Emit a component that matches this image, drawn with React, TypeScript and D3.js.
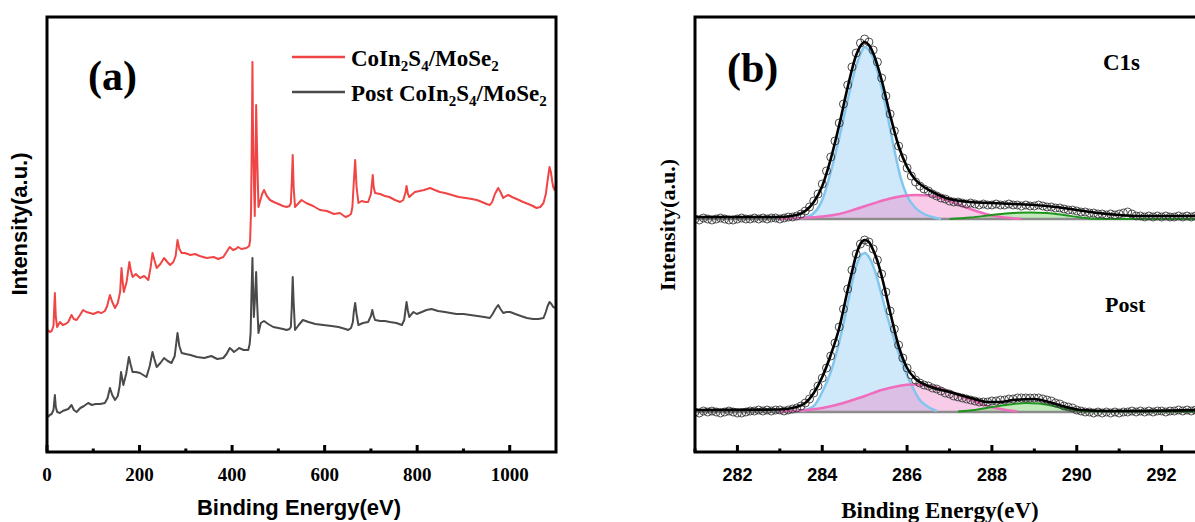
import React from 'react';
import * as d3 from 'd3';

// ---------- Panel (a): XPS survey ----------
const surveyTicks = [0, 200, 400, 600, 800, 1000];
const surveyMinorTicks = [100, 300, 500, 700, 900];
const surveyLegend = ['CoIn2S4/MoSe2', 'Post CoIn2S4/MoSe2'];

const pristineSurvey: [number, number][] = [
  [2,122],[6,120],[10,121],[14,126],[17,159],[19,135],[22,125],[28,130],[34,127],[40,128],[46,130],[53,137],[58,133],[64,132],[70,136],[78,142],[85,140],[93,139],[100,138],[110,140],[118,139],[125,141],[130,146],[136,157],[141,150],[147,144],[153,149],[158,160],[161,184],[164,168],[166,160],[172,170],[178,190],[181,182],[185,175],[192,178],[201,174],[210,176],[219,172],[224,185],[228,199],[232,192],[237,184],[245,188],[253,194],[260,190],[266,187],[273,190],[278,196],[282,212],[286,203],[291,199],[298,199],[310,197],[320,198],[330,196],[345,194],[360,195],[370,193],[381,195],[388,200],[395,205],[402,202],[408,203],[413,205],[420,203],[431,204],[437,206],[439,212],[441,242],[443,330],[444,390],[445,330],[447,275],[449,236],[451,300],[452,347],[454,300],[457,245],[460,250],[465,258],[469,262],[475,256],[482,252],[490,250],[500,248],[510,246],[518,245],[524,246],[527,249],[529,270],[531,297],[533,265],[536,245],[542,248],[550,252],[560,249],[575,246],[590,242],[605,241],[620,238],[633,239],[645,235],[651,236],[657,238],[660,245],[663,270],[666,292],[669,265],[673,249],[680,251],[688,250],[694,250],[700,258],[704,277],[706,265],[709,259],[720,258],[730,256],[740,255],[752,252],[763,250],[770,252],[775,260],[777,266],[780,258],[783,255],[790,258],[795,260],[805,261],[815,262],[828,264],[838,262],[849,260],[860,259],[875,257],[890,255],[905,254],[918,253],[929,252],[940,250],[950,248],[957,247],[962,250],[968,258],[975,264],[980,260],[986,254],[992,256],[997,257],[1005,255],[1015,253],[1029,250],[1040,248],[1050,246],[1058,244],[1066,245],[1073,249],[1078,258],[1082,272],[1086,285],[1089,280],[1092,270],[1094,265],[1097,262],[1100,267]
];

const postSurvey: [number, number][] = [
  [2,35],[6,37],[10,38],[14,42],[17,57],[19,45],[22,40],[28,39],[34,41],[40,42],[46,43],[53,47],[58,42],[64,40],[72,44],[80,46],[89,49],[97,47],[105,48],[115,48],[125,49],[131,54],[136,64],[141,57],[147,52],[153,56],[157,66],[160,80],[163,72],[165,67],[171,78],[177,95],[181,87],[185,80],[192,80],[201,79],[208,77],[215,75],[222,86],[228,100],[232,93],[237,85],[245,89],[253,94],[261,91],[269,89],[276,96],[282,119],[286,106],[291,99],[300,98],[310,97],[324,95],[340,94],[355,96],[368,93],[381,94],[388,98],[395,104],[400,102],[404,100],[410,102],[415,104],[425,102],[435,102],[438,108],[440,119],[442,160],[444,194],[445,170],[447,135],[449,150],[451,170],[452,180],[454,150],[457,119],[462,129],[469,131],[478,128],[489,125],[500,124],[510,123],[518,122],[524,123],[527,125],[529,145],[531,175],[533,150],[536,122],[544,127],[553,132],[565,130],[580,128],[597,127],[615,126],[630,125],[645,123],[651,122],[657,124],[661,130],[663,140],[666,149],[669,138],[673,127],[683,129],[694,130],[700,136],[703,142],[706,136],[709,132],[720,131],[730,131],[741,130],[755,129],[767,127],[772,132],[775,143],[777,150],[780,141],[783,135],[788,138],[792,140],[799,138],[810,140],[820,142],[831,143],[845,141],[860,140],[872,139],[885,138],[900,138],[915,137],[930,136],[945,135],[957,134],[963,138],[969,143],[975,147],[980,143],[986,139],[993,140],[1001,140],[1012,138],[1024,136],[1037,134],[1050,133],[1062,133],[1073,134],[1078,140],[1082,146],[1086,150],[1090,148],[1094,145],[1100,144]
];

// ---------- Panel (b): C1s high-resolution ----------
const c1sTicks = [282, 284, 286, 288, 290, 292];
const c1sMinorTicks = [281, 283, 285, 287, 289, 291, 293];
const c1sEnergy = d3.range(0, 121).map((i) => Math.round((281 + i * 0.1) * 10) / 10);

const c1sPristine = [
  233,232,234,233,232,233,234,233,232,232,
  233,234,233,233,234,233,234,233,234,234,
  233,234,235,235,236,238,241,245,251,258,
  268,281,295,311,329,348,367,385,399,409,
  413,410,402,390,374,356,338,321,306,294,
  284,276,270,266,263,261,258,256,254,253,
  251,250,250,249,248,249,248,247,248,247,
  247,248,247,247,248,247,247,246,247,246,
  246,247,246,245,245,244,244,243,242,242,
  241,240,240,239,239,238,238,237,238,237,
  238,239,240,238,236,236,235,236,235,236,
  235,236,235,235,236,235,236,235,236,235,
  236
];

const c1sPost = [
  40,39,41,40,41,40,39,40,41,40,
  39,39,40,41,41,42,41,42,41,42,
  42,41,42,43,44,46,49,53,59,66,
  74,84,96,109,125,143,163,182,198,208,
  212,210,203,192,178,160,141,123,107,94,
  84,77,72,69,67,66,64,63,61,59,
  58,56,55,54,53,52,51,50,50,50,
  51,51,52,52,53,53,54,54,54,54,
  54,54,53,52,51,49,48,46,45,44,
  42,41,40,40,39,40,39,40,39,40,
  39,40,40,41,40,41,40,41,40,41,
  41,40,41,41,42,41,42,41,42,41,
  42
];

const fitPristine: [number, number][] = [
  [281,235],[282,235],[283,235],[283.4,237],[283.6,241],[283.8,250],[284,266],[284.2,293],[284.4,327],[284.6,365],[284.8,397],[284.9,406],[285,410],[285.1,407],[285.2,399],[285.4,372],[285.6,337],[285.8,306],[286,285],[286.2,272],[286.4,265],[286.6,260],[286.8,256],[287,253],[287.5,250],[288,249],[288.5,248],[289,247],[289.5,245],[290,242],[290.5,239],[291,237],[291.5,236],[292,236],[293,236]
];
const bluePristine: [number, number][] = [
  [283.3,233],[283.5,234],[283.7,236],[283.9,244],[284,252],[284.2,280],[284.4,314],[284.6,352],[284.8,386],[284.9,398],[285,405],[285.1,402],[285.25,388],[285.4,364],[285.55,334],[285.7,302],[285.85,274],[286,256],[286.2,244],[286.4,238],[286.6,235],[286.8,233]
];
const pinkPristine: [number, number][] = [
  [283,233],[283.5,234],[284,235.5],[284.4,238],[284.8,243],[285.2,248.5],[285.6,253.5],[285.9,256],[286.2,257],[286.5,256.5],[286.8,254],[287.1,249.5],[287.4,244.5],[287.7,240],[288,236.5],[288.3,234.5],[288.7,233]
];
const greenPristine: [number, number][] = [
  [287,233],[287.5,234.5],[288,237],[288.5,239],[288.9,239.5],[289.3,239],[289.7,237],[290.1,234.5],[290.5,233],[291,233],[293,233]
];
const bgPristine: [number, number][] = [[281,233],[293,233]];

const fitPost: [number, number][] = [
  [281,42],[283,42.5],[283.4,45],[283.6,49],[283.8,59],[284,75],[284.2,97],[284.4,124],[284.6,162],[284.7,180],[284.8,197],[284.9,208],[285,212],[285.1,210],[285.2,202],[285.3,191],[285.4,176],[285.6,140],[285.8,106],[286,84],[286.2,73],[286.5,66],[287,60],[287.5,54],[287.9,50],[288.2,50],[288.5,52],[289,53],[289.3,50.5],[289.7,45.5],[290.1,42],[290.8,41],[293,42]
];
const bluePost: [number, number][] = [
  [283.5,41],[283.8,46],[284,60],[284.2,80],[284.4,110],[284.6,148],[284.75,178],[284.9,196],[285,199],[285.1,195],[285.25,180],[285.4,157],[285.55,133],[285.7,112],[285.85,93],[286,77],[286.15,63],[286.3,52],[286.5,45],[286.7,41]
];
const pinkPost: [number, number][] = [
  [283,40.5],[283.5,41.5],[284,44],[284.5,49],[285,56],[285.4,62],[285.8,66],[286.1,67.5],[286.4,67],[286.7,64.5],[287,60.5],[287.3,55.5],[287.6,50.5],[287.9,46],[288.2,43],[288.6,40.5]
];
const greenPost: [number, number][] = [
  [287.2,40.5],[287.6,42],[288,45],[288.4,47.5],[288.8,49],[289.1,48.5],[289.4,46.5],[289.7,43.5],[290,41.5],[290.3,40.5],[291,40.5],[293,40.5]
];
const bgPost: [number, number][] = [[281,40],[293,40]];

const c1sLabels = ['C1s', 'Post'];

// ---------- layout ----------
const W = 1195;
const H = 522;
const FA = { l: 47, r: 556, t: 17, b: 452 };
const FB = { l: 695, r: 1204, t: 17, b: 452 };
const SERIF = '"Liberation Serif", "Times New Roman", Times, serif';
const SANS = '"Liberation Sans", Arial, Helvetica, sans-serif';

const RED = '#f04545';
const GRAY = '#4a4a4a';

function Formula({ prefix }: { prefix: string }) {
  return (
    <>
      {prefix}CoIn
      <tspan fontSize={15} dy={5}>2</tspan>
      <tspan dy={-5}>S</tspan>
      <tspan fontSize={15} dy={5}>4</tspan>
      <tspan dy={-5}>/MoSe</tspan>
      <tspan fontSize={15} dy={5}>2</tspan>
    </>
  );
}

export default function App() {
  const xA = d3.scaleLinear().domain([0, 1100]).range([FA.l, FA.r]);
  const yA = d3.scaleLinear().domain([0, 435]).range([FA.b, FA.t]);
  const xB = d3.scaleLinear().domain([281, 293]).range([FB.l, FB.r]);
  const yB = d3.scaleLinear().domain([0, 435]).range([FB.b, FB.t]);

  const lineA = d3.line<[number, number]>().x((d) => xA(d[0])).y((d) => yA(d[1]));
  const lineB = d3
    .line<[number, number]>()
    .x((d) => xB(d[0]))
    .y((d) => yB(d[1]))
    .curve(d3.curveMonotoneX);
  const areaB = (comp: [number, number][], base: number) =>
    d3
      .area<[number, number]>()
      .x((d) => xB(d[0]))
      .y0(yB(base))
      .y1((d) => yB(d[1]))
      .curve(d3.curveMonotoneX)(comp) || '';

  const spectra = [
    { data: c1sPristine, fit: fitPristine, blue: bluePristine, pink: pinkPristine, green: greenPristine, bg: bgPristine },
    { data: c1sPost, fit: fitPost, blue: bluePost, pink: pinkPost, green: greenPost, bg: bgPost },
  ];

  return (
    <div style={{ position: 'fixed', left: 0, top: 0, width: W, height: H, background: '#fff' }}>
      <svg width={W} height={H} viewBox={`0 0 ${W} ${H}`} style={{ display: 'block' }}>
        <defs>
          <clipPath id="clipA">
            <rect x={FA.l} y={FA.t} width={FA.r - FA.l} height={FA.b - FA.t} />
          </clipPath>
          <clipPath id="clipB">
            <rect x={FB.l} y={FB.t} width={FB.r - FB.l} height={FB.b - FB.t} />
          </clipPath>
        </defs>

        {/* ---------- Panel (a) ---------- */}
        <g clipPath="url(#clipA)">
          <path d={lineA(postSurvey) || ''} fill="none" stroke={GRAY} strokeWidth={2} strokeLinejoin="round" />
          <path d={lineA(pristineSurvey) || ''} fill="none" stroke={RED} strokeWidth={2} strokeLinejoin="round" />
        </g>
        {surveyTicks.map((t) => (
          <line key={'ta' + t} x1={xA(t)} x2={xA(t)} y1={FA.b} y2={FA.b - 7} stroke="#000" strokeWidth={3} />
        ))}
        {surveyMinorTicks.map((t) => (
          <line key={'tma' + t} x1={xA(t)} x2={xA(t)} y1={FA.b} y2={FA.b - 3.5} stroke="#000" strokeWidth={3} />
        ))}
        <rect x={FA.l} y={FA.t} width={FA.r - FA.l} height={FA.b - FA.t} fill="none" stroke="#000" strokeWidth={3} />
        {surveyTicks.map((t) => (
          <text key={'la' + t} x={xA(t)} y={481} textAnchor="middle" fontFamily={SERIF} fontWeight="bold" fontSize={19}>
            {t}
          </text>
        ))}
        <text x={299} y={515} textAnchor="middle" fontFamily={SANS} fontWeight="bold" fontSize={22}>
          Binding Energy(eV)
        </text>
        <text
          transform="translate(27,224) rotate(-90)"
          textAnchor="middle"
          fontFamily={SANS}
          fontWeight="bold"
          fontSize={22}
        >
          Intensity(a.u.)
        </text>
        <text x={88} y={90} fontFamily={SERIF} fontWeight="bold" fontSize={42}>
          (a)
        </text>
        {/* legend */}
        <line x1={292} x2={345} y1={57} y2={57} stroke={RED} strokeWidth={2.5} />
        <line x1={292} x2={345} y1={92} y2={92} stroke={GRAY} strokeWidth={2.5} />
        <text x={351} y={66} fontFamily={SERIF} fontWeight="bold" fontSize={23}>
          <Formula prefix="" />
        </text>
        <text x={351} y={101} fontFamily={SERIF} fontWeight="bold" fontSize={23}>
          <Formula prefix="Post " />
        </text>

        {/* ---------- Panel (b) ---------- */}
        <g clipPath="url(#clipB)">
          {spectra.map((s, k) => {
            const base = s.bg[0][1];
            return (
              <g key={'sp' + k}>
                <path d={areaB(s.blue, base)} fill="#8ccbf2" fillOpacity={0.42} />
                <path d={areaB(s.pink, base)} fill="#ee86c8" fillOpacity={0.42} />
                <path d={areaB(s.green, base)} fill="#8ed884" fillOpacity={0.55} />
                <path d={lineB(s.bg) || ''} fill="none" stroke="#8c8c8c" strokeWidth={2.5} />
                <path d={lineB(s.blue) || ''} fill="none" stroke="#82c6f0" strokeWidth={2.5} />
                <path d={lineB(s.pink) || ''} fill="none" stroke="#f06cbc" strokeWidth={2.5} />
                <path d={lineB(s.green) || ''} fill="none" stroke="#1f951f" strokeWidth={2} />
                {s.data.map((v, i) => (
                  <circle
                    key={'c' + i}
                    cx={xB(c1sEnergy[i])}
                    cy={yB(v)}
                    r={4}
                    fill="none"
                    stroke="#3a3a3a"
                    strokeWidth={0.9}
                  />
                ))}
                <path d={lineB(s.fit) || ''} fill="none" stroke="#000" strokeWidth={2.6} />
              </g>
            );
          })}
        </g>
        {c1sTicks.map((t) => (
          <line key={'tb' + t} x1={xB(t)} x2={xB(t)} y1={FB.b} y2={FB.b - 7} stroke="#000" strokeWidth={3} />
        ))}
        {c1sMinorTicks.map((t) => (
          <line key={'tmb' + t} x1={xB(t)} x2={xB(t)} y1={FB.b} y2={FB.b - 3.5} stroke="#000" strokeWidth={3} />
        ))}
        <rect x={FB.l} y={FB.t} width={FB.r - FB.l} height={FB.b - FB.t} fill="none" stroke="#000" strokeWidth={3} />
        {c1sTicks.map((t) => (
          <text key={'lb' + t} x={xB(t)} y={481} textAnchor="middle" fontFamily={SANS} fontWeight="bold" fontSize={18}>
            {t}
          </text>
        ))}
        <text x={940} y={518} textAnchor="middle" fontFamily={SERIF} fontWeight="bold" fontSize={23}>
          Binding Energy(eV)
        </text>
        <text
          transform="translate(675,225) rotate(-90)"
          textAnchor="middle"
          fontFamily={SERIF}
          fontWeight="bold"
          fontSize={22}
        >
          Intensity(a.u.)
        </text>
        <text x={727} y={82} fontFamily={SERIF} fontWeight="bold" fontSize={42}>
          (b)
        </text>
        <text x={1103} y={70} fontFamily={SERIF} fontWeight="bold" fontSize={23}>
          {c1sLabels[0]}
        </text>
        <text x={1105} y={312} fontFamily={SERIF} fontWeight="bold" fontSize={22}>
          {c1sLabels[1]}
        </text>
      </svg>
    </div>
  );
}
